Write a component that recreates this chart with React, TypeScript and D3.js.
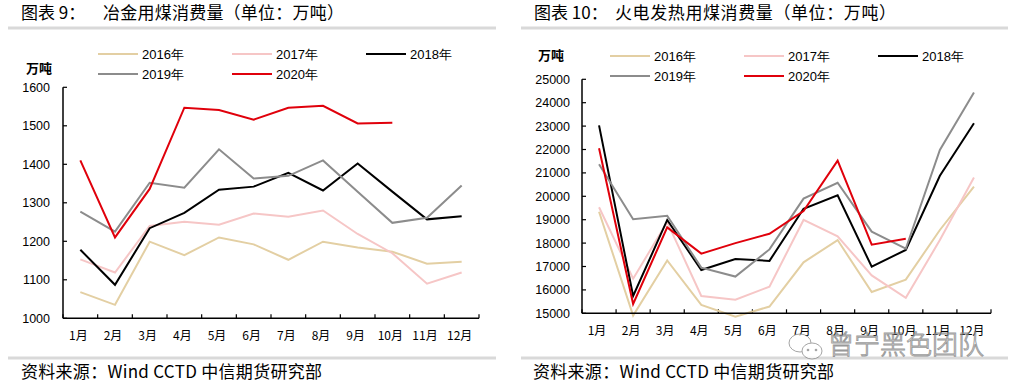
import * as d3 from 'd3';

const months = ['1月', '2月', '3月', '4月', '5月', '6月', '7月', '8月', '9月', '10月', '11月', '12月'];
const years = ['2016年', '2017年', '2018年', '2019年', '2020年'];
const colors = ['#e3cfa3', '#f6c6c6', '#000000', '#8c8c8c', '#e0000b'];

// 冶金用煤消费量
const met2016 = [1068, 1035, 1199, 1164, 1210, 1192, 1152, 1199, 1184, 1173, 1142, 1147];
const met2017 = [1153, 1119, 1240, 1251, 1243, 1272, 1264, 1280, 1219, 1169, 1090, 1119];
const met2018 = [1178, 1087, 1234, 1274, 1334, 1342, 1378, 1332, 1402, 1329, 1257, 1265];
const met2019 = [1277, 1225, 1352, 1339, 1439, 1363, 1370, 1410, 1329, 1248, 1261, 1345];
const met2020 = [1410, 1210, 1336, 1547, 1541, 1516, 1547, 1552, 1506, 1508];
const metTicks = [1000, 1100, 1200, 1300, 1400, 1500, 1600];

// 火电发热用煤消费量
const pow2016 = [19340, 14900, 17260, 15360, 14850, 15290, 17180, 18130, 15910, 16440, 18560, 20410];
const pow2017 = [19530, 16480, 18900, 15740, 15580, 16140, 18990, 18290, 16620, 15660, 18130, 20800];
const pow2018 = [23030, 15740, 18990, 16850, 17320, 17240, 19470, 20040, 16990, 17710, 20880, 23120];
const pow2019 = [21370, 19020, 19170, 16950, 16570, 17730, 19900, 20580, 18490, 17760, 21980, 24440];
const pow2020 = [22050, 15400, 18670, 17550, 18000, 18400, 19370, 21520, 17930, 18190];
const powTicks = [15000, 16000, 17000, 18000, 19000, 20000, 21000, 22000, 23000, 24000, 25000];

const cjk = '"Noto Sans CJK SC", sans-serif';
const latin = '"Liberation Sans", Arial, sans-serif';

type PanelProps = {
    left: number;
    right: number;
    x0: number;
    x1: number;
    yTop: number;
    yBottom: number;
    domain: [number, number];
    ticks: number[];
    series: number[][];
    titleA: string;
    titleB: string;
    titleBx: number;
    titleBw: number;
    unitX: number;
    unitY: number;
    labelRight: number;
    legendX: number;
    legendY: number;
    sourceX: number;
};

function Panel(p: PanelProps) {
    const x = d3.scaleBand<string>().domain(months).range([p.x0, p.x1]).padding(0);
    const y = d3.scaleLinear().domain(p.domain).range([p.yBottom, p.yTop]);
    const line = d3.line<number>((d, i) => (x(months[i]) ?? 0) + x.bandwidth() / 2, (d) => y(d));
    const step = x.step();
    return (
        <g>
            <text x={p.left + 13} y={19} fontFamily={cjk} fontSize={17}>{p.titleA}</text>
            <text x={p.titleBx} y={19} fontFamily={cjk} fontSize={17} textLength={p.titleBw} lengthAdjust="spacing">{p.titleB}</text>
            <line x1={p.left} x2={p.right} y1={28} y2={28} stroke="#d9d9d9" strokeWidth={3} />

            <text x={p.unitX} y={p.unitY + 4.5} fontFamily={cjk} fontSize={13} fontWeight="bold">万吨</text>

            {years.map((yr, i) => {
                const lx = p.legendX + (i % 3) * 134;
                const ly = p.legendY + Math.floor(i / 3) * 20;
                return (
                    <g key={yr}>
                        <line x1={lx} x2={lx + 40} y1={ly} y2={ly} stroke={colors[i]} strokeWidth={2} />
                        <text x={lx + 44} y={ly + 4.5} fontFamily={latin} fontSize={13}>{yr}</text>
                    </g>
                );
            })}

            {p.ticks.map((t) => (
                <g key={t}>
                    <line x1={p.x0} x2={p.x0 + 4} y1={y(t)} y2={y(t)} stroke="#000" strokeWidth={1.2} />
                    <text x={p.labelRight} y={y(t) + 4.5} textAnchor="end" fontFamily={latin} fontSize={12.5}>{t}</text>
                </g>
            ))}
            {d3.range(13).map((i) => (
                <line key={i} x1={p.x0 + i * step} x2={p.x0 + i * step} y1={p.yBottom} y2={p.yBottom - 4} stroke="#000" strokeWidth={1.2} />
            ))}
            {months.map((m) => (
                <text key={m} x={(x(m) ?? 0) + x.bandwidth() / 2 - 2} y={p.yBottom + 22} textAnchor="middle" fontFamily={cjk} fontSize={12}>{m}</text>
            ))}

            {p.series.map((s, i) => (
                <path key={i} d={line(s) ?? undefined} fill="none" stroke={colors[i]} strokeWidth={2} strokeLinejoin="miter" />
            ))}

            <line x1={p.x0} x2={p.x0} y1={p.yTop} y2={p.yBottom} stroke="#000" strokeWidth={1.5} />
            <line x1={p.x0} x2={p.x1} y1={p.yBottom} y2={p.yBottom} stroke="#000" strokeWidth={1.5} />

            <line x1={p.left} x2={p.right} y1={358} y2={358} stroke="#d9d9d9" strokeWidth={3} />
            <text x={p.sourceX} y={378} fontFamily={cjk} fontSize={17} textLength={301} lengthAdjust="spacing">资料来源：Wind CCTD 中信期货研究部</text>
        </g>
    );
}

function App() {
    return (
        <svg width={1017} height={388} style={{ position: 'absolute', left: 0, top: 0, background: '#fff' }}>
            <Panel
                left={8} right={496} x0={63} x1={479} yTop={87.3} yBottom={318.3}
                domain={[1000, 1600]} ticks={metTicks}
                series={[met2016, met2017, met2018, met2019, met2020]}
                titleA="图表 9：" titleB="冶金用煤消费量（单位：万吨）" titleBx={103} titleBw={241}
                unitX={26} unitY={68} labelRight={50} legendX={98} legendY={54} sourceX={21}
            />
            <Panel
                left={521} right={1008} x0={582} x1={991} yTop={79.3} yBottom={313.3}
                domain={[15000, 25000]} ticks={powTicks}
                series={[pow2016, pow2017, pow2018, pow2019, pow2020]}
                titleA="图表 10：" titleB="火电发热用煤消费量（单位：万吨）" titleBx={615} titleBw={281}
                unitX={538} unitY={55} labelRight={570} legendX={610} legendY={56} sourceX={533}
            />
            <g opacity={0.75}>
                <ellipse cx={800} cy={343} rx={11} ry={9} fill="#fff" stroke="#888" strokeWidth={1} />
                <ellipse cx={812} cy={351} rx={10} ry={8} fill="#fff" stroke="#888" strokeWidth={1} />
                <circle cx={808} cy={350} r={1.3} fill="#888" />
                <circle cx={816} cy={350} r={1.3} fill="#888" />
                <text x={828} y={354} fontFamily={cjk} fontSize={26} fontWeight={300} fill="#fff" stroke="#777" strokeWidth={0.9}>曾宁黑色团队</text>
            </g>
        </svg>
    );
}

export default App;
